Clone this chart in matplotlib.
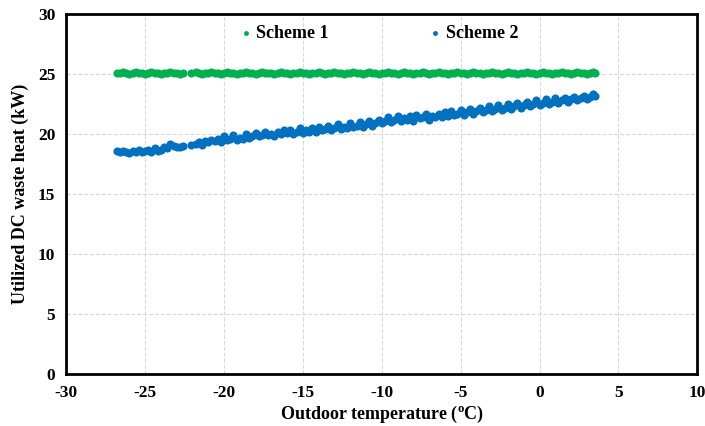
import matplotlib.pyplot as plt

# outdoor temperature (degC) for each operating hour sample
temps = [
    -26.8, -26.6, -26.4, -26.2, -26.0, -25.8, -25.6, -25.4, -25.2, -25.0,
    -24.8, -24.6, -24.4, -24.2, -24.0, -23.8, -23.6, -23.4, -23.2, -23.0,
    -22.8, -22.6, -22.1, -21.8, -21.6, -21.4, -21.2, -21.0, -20.8, -20.6,
    -20.4, -20.2, -20.0, -19.8, -19.6, -19.4, -19.2, -19.0, -18.8, -18.6,
    -18.4, -18.2, -18.0, -17.8, -17.6, -17.4, -17.2, -17.0, -16.8, -16.6,
    -16.4, -16.2, -16.0, -15.8, -15.6, -15.4, -15.2, -15.0, -14.8, -14.6,
    -14.4, -14.2, -14.0, -13.8, -13.6, -13.4, -13.2, -13.0, -12.8, -12.6,
    -12.4, -12.2, -12.0, -11.8, -11.6, -11.4, -11.2, -11.0, -10.8, -10.6,
    -10.4, -10.2, -10.0, -9.8, -9.6, -9.4, -9.2, -9.0, -8.8, -8.6,
    -8.4, -8.2, -8.0, -7.8, -7.6, -7.4, -7.2, -7.0, -6.8, -6.6,
    -6.4, -6.2, -6.0, -5.8, -5.6, -5.4, -5.2, -5.0, -4.8, -4.6,
    -4.4, -4.2, -4.0, -3.8, -3.6, -3.4, -3.2, -3.0, -2.8, -2.6,
    -2.4, -2.2, -2.0, -1.8, -1.6, -1.4, -1.2, -1.0, -0.8, -0.6,
    -0.4, -0.2, 0.0, 0.2, 0.4, 0.6, 0.8, 1.0, 1.2, 1.4,
    1.6, 1.8, 2.0, 2.2, 2.4, 2.6, 2.8, 3.0, 3.2, 3.4,
    3.5,
]

# utilized DC waste heat (kW)
scheme1 = [
    25.1, 25.1, 25.2, 25.1, 25.0, 25.1, 25.2, 25.1, 25.1, 25.0,
    25.1, 25.2, 25.1, 25.1, 25.0, 25.1, 25.1, 25.2, 25.1, 25.1,
    25.0, 25.1, 25.1, 25.2, 25.1, 25.0, 25.1, 25.1, 25.2, 25.1,
    25.1, 25.0, 25.1, 25.2, 25.1, 25.1, 25.0, 25.1, 25.1, 25.2,
    25.1, 25.1, 25.0, 25.1, 25.2, 25.1, 25.1, 25.1, 25.0, 25.1,
    25.2, 25.1, 25.1, 25.0, 25.1, 25.1, 25.2, 25.1, 25.1, 25.0,
    25.1, 25.1, 25.2, 25.1, 25.0, 25.1, 25.1, 25.2, 25.1, 25.1,
    25.0, 25.1, 25.1, 25.2, 25.1, 25.1, 25.0, 25.1, 25.2, 25.1,
    25.1, 25.0, 25.1, 25.1, 25.2, 25.1, 25.1, 25.0, 25.1, 25.2,
    25.1, 25.1, 25.0, 25.1, 25.1, 25.2, 25.1, 25.0, 25.1, 25.1,
    25.2, 25.1, 25.1, 25.0, 25.1, 25.1, 25.2, 25.1, 25.1, 25.0,
    25.1, 25.2, 25.1, 25.1, 25.0, 25.1, 25.1, 25.2, 25.1, 25.1,
    25.0, 25.1, 25.2, 25.1, 25.1, 25.0, 25.1, 25.1, 25.2, 25.1,
    25.1, 25.0, 25.1, 25.2, 25.1, 25.1, 25.0, 25.1, 25.1, 25.2,
    25.1, 25.1, 25.0, 25.1, 25.2, 25.1, 25.1, 25.0, 25.1, 25.2,
    25.1,
]
scheme2 = [
    18.6, 18.5, 18.6, 18.5, 18.4, 18.6, 18.5, 18.7, 18.5, 18.6,
    18.7, 18.5, 18.8, 18.6, 18.7, 18.9, 18.8, 19.2, 19.0, 18.9,
    18.9, 19.0, 19.1, 19.2, 19.3, 19.1, 19.4, 19.3, 19.5, 19.4,
    19.6, 19.3, 19.8, 19.5, 19.6, 19.9, 19.5, 19.7, 19.6, 20.0,
    19.7, 19.8, 20.1, 19.8, 19.9, 20.2, 19.9, 20.0, 19.8, 20.2,
    20.0, 20.3, 20.1, 20.3, 20.0, 20.2, 20.5, 20.1, 20.3, 20.2,
    20.5, 20.2, 20.6, 20.3, 20.4, 20.7, 20.3, 20.5, 20.8, 20.4,
    20.6, 20.5, 20.9, 20.6, 20.7, 21.0, 20.6, 20.8, 21.1, 20.7,
    20.9, 21.2, 20.9, 21.1, 21.4, 21.0, 21.2, 21.5, 21.1, 21.3,
    21.2, 21.5, 21.1, 21.6, 21.3, 21.4, 21.7, 21.2, 21.5, 21.4,
    21.7, 21.4, 21.8, 21.5, 21.9, 21.6, 21.7, 22.0, 21.6, 21.8,
    22.1, 21.7, 21.9, 22.2, 21.8, 22.0, 22.3, 21.9, 22.1, 22.4,
    22.0, 22.2, 22.5, 22.1, 22.3, 22.6, 22.2, 22.4, 22.7, 22.3,
    22.5, 22.8, 22.4, 22.6, 22.9, 22.5, 22.7, 23.0, 22.6, 22.8,
    23.0, 22.7, 22.9, 23.1, 22.8, 23.0, 23.2, 22.9, 23.1, 23.3,
    23.2,
]

green = '#00B050'
blue = '#0070C0'

plt.rcParams['font.family'] = 'Liberation Serif'
plt.rcParams['font.weight'] = 'bold'
plt.rcParams['axes.unicode_minus'] = False
plt.rcParams['mathtext.fontset'] = 'custom'
plt.rcParams['mathtext.rm'] = 'Liberation Serif:bold'
plt.rcParams['mathtext.bf'] = 'Liberation Serif:bold'

fig = plt.figure(figsize=(7.05, 4.26), dpi=100)
ax = fig.add_axes([0.094, 0.122, 0.895, 0.845])

ax.scatter(temps, scheme1, s=34, color=green, label='Scheme 1', zorder=3, linewidths=0)
ax.scatter(temps, scheme2, s=34, color=blue, label='Scheme 2', zorder=3, linewidths=0)

ax.set_xlim(-30, 10)
ax.set_ylim(0, 30)
ax.set_xticks(range(-30, 11, 5))
ax.set_yticks(range(0, 31, 5))
ax.grid(True, color='#d9d9d9', linestyle='--', linewidth=0.8)
ax.set_axisbelow(True)
for sp in ax.spines.values():
    sp.set_linewidth(2)
ax.tick_params(length=0, labelsize=12.5, pad=8)

ax.set_xlabel(r'Outdoor temperature ($^{\mathrm{o}}$C)', fontsize=13, fontweight='bold', labelpad=2)
ax.set_ylabel('Utilized DC waste heat (kW)', fontsize=13, fontweight='bold', labelpad=6)

ax.legend(loc='upper center', bbox_to_anchor=(0.495, 1.015), ncol=2, frameon=False,
          fontsize=13, markerscale=0.6, handletextpad=0.2, columnspacing=5.5,
          handlelength=0.8)

fig.savefig('out.png', dpi=100)
